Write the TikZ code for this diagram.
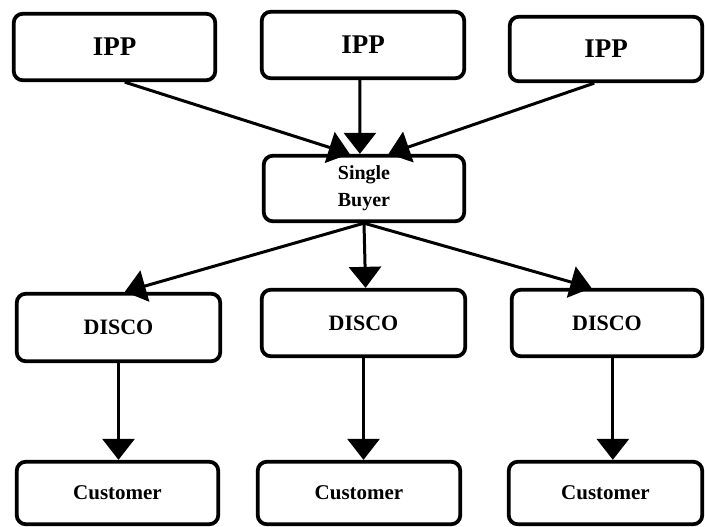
\documentclass[tikz,border=0pt]{standalone}
\usepackage{fontspec}
\setmainfont{Liberation Serif}
\usetikzlibrary{arrows.meta,calc}
\begin{document}
\begin{tikzpicture}[x=1pt,y=-1pt,
  box/.style={draw, line width=3.8pt, rounded corners=9pt, inner sep=0pt, align=center},
  bigtxt/.style={font=\fontsize{27}{30}\selectfont\bfseries},
  midtxt/.style={font=\fontsize{22}{26}\selectfont\bfseries},
  smalltxt/.style={font=\fontsize{21}{27}\selectfont\bfseries},
  flow/.style={line width=3pt, -{Triangle[length=21pt,width=32pt]}}]
\useasboundingbox (0,0) rectangle (705,527);

% producers
\node[box, bigtxt, minimum width=201.5pt, minimum height=66.5pt] (ipp1) at (114.5,47) {IPP};
\node[box, bigtxt, minimum width=202.5pt, minimum height=66.5pt] (ipp2) at (363,45) {IPP};
\node[box, bigtxt, minimum width=192.5pt, minimum height=64.5pt] (ipp3) at (606,49) {IPP};

% purchasing agency
\node[box, font=\fontsize{20}{27}\selectfont\bfseries, minimum width=200.5pt, minimum height=65.5pt] (sb) at (364,188.5) {Single\\Buyer};

% distribution companies
\node[box, midtxt, minimum width=203.5pt, minimum height=67.5pt] (d1) at (118.5,327.5) {DISCO};
\node[box, midtxt, minimum width=203.5pt, minimum height=66.5pt] (d2) at (363.5,323) {DISCO};
\node[box, midtxt, minimum width=190.5pt, minimum height=66.5pt] (d3) at (607,323) {DISCO};

% customers
\node[box, smalltxt, minimum width=201.5pt, minimum height=62.5pt] (c1) at (117.5,493) {Customer};
\node[box, smalltxt, minimum width=202.5pt, minimum height=62.5pt] (c2) at (359,493) {Customer};
\node[box, smalltxt, minimum width=193.5pt, minimum height=62.5pt] (c3) at (605.5,493) {Customer};

% IPP -> Single Buyer
\draw[flow] ($(ipp1.south west)!0.55!(ipp1.south east)$) -- ($(sb.north west)!0.43!(sb.north east)$);
\draw[flow] ($(ipp2.south west)!0.485!(ipp2.south east)$) -- ($(sb.north west)!0.48!(sb.north east)$);
\draw[flow] ($(ipp3.south west)!0.44!(ipp3.south east)$) -- ($(sb.north west)!0.62!(sb.north east)$);

% Single Buyer -> DISCO
\coordinate (sbout) at ($(sb.south west)!0.5!(sb.south east)$);
\draw[flow] (sbout) -- ($(d1.north west)!0.53!(d1.north east)$);
\draw[flow] (sbout) -- ($(d2.north west)!0.51!(d2.north east)$);
\draw[flow] (sbout) -- ($(d3.north west)!0.42!(d3.north east)$);

% DISCO -> Customer
\coordinate (d3out) at ($(d3.south west)!0.53!(d3.south east)$);
\draw[flow] (d1.south) -- (d1.south |- c1.north);
\draw[flow] (d2.south) -- (d2.south |- c2.north);
\draw[flow] (d3out) -- (d3out |- c3.north);
\end{tikzpicture}
\end{document}
